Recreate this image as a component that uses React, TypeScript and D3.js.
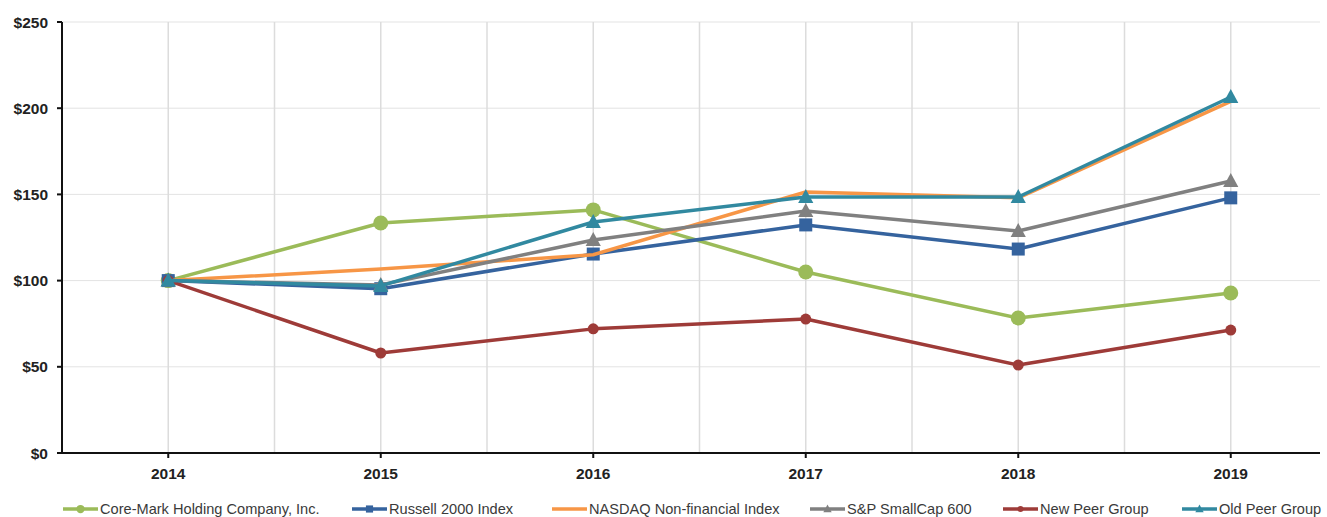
import React from 'react';
import * as d3 from 'd3';

const years = [2014, 2015, 2016, 2017, 2018, 2019];
const yTicks = [0, 50, 100, 150, 200, 250];

const coreMark = [100, 133.4, 141, 105, 78.3, 92.8];
const russell = [100, 95.3, 115.4, 132.3, 118.3, 148];
const nasdaq = [100, 106.7, 115, 151.4, 148, 204];
const spSmall = [100, 97.5, 123.5, 140.4, 128.8, 157.8];
const newPeer = [100, 58, 72, 77.7, 51, 71.3];
const oldPeer = [100, 96.9, 134, 148.5, 148.5, 206.5];

const seriesNames = [
  'Core-Mark Holding Company, Inc.',
  'Russell 2000 Index',
  'NASDAQ Non-financial Index',
  'S&P SmallCap 600',
  'New Peer Group',
  'Old Peer Group',
];

const series = [
  { name: seriesNames[0], values: coreMark, color: '#9BBB59', marker: 'circle', size: 7.5 },
  { name: seriesNames[1], values: russell, color: '#35639E', marker: 'square', size: 6.5 },
  { name: seriesNames[2], values: nasdaq, color: '#F79646', marker: 'none', size: 0 },
  { name: seriesNames[3], values: spSmall, color: '#808080', marker: 'triangle', size: 8 },
  { name: seriesNames[4], values: newPeer, color: '#9E3B38', marker: 'circle', size: 5.5 },
  { name: seriesNames[5], values: oldPeer, color: '#3189A0', marker: 'triangle', size: 8 },
];

const legendX = [63, 352, 552, 810, 1003, 1182];

const W = 1327;
const H = 517;
const left = 62;
const right = 1320;
const top = 22;
const bottom = 453;

function Marker({ kind, x, y, size, color }) {
  if (kind === 'circle') return <circle cx={x} cy={y} r={size} fill={color} />;
  if (kind === 'square')
    return <rect x={x - size} y={y - size} width={size * 2} height={size * 2} fill={color} />;
  if (kind === 'triangle') {
    const p = d3.path();
    p.moveTo(x, y - size);
    p.lineTo(x + size * 0.95, y + size * 0.75);
    p.lineTo(x - size * 0.95, y + size * 0.75);
    p.closePath();
    return <path d={p.toString()} fill={color} />;
  }
  return null;
}

export default function App() {
  const x = d3.scaleLinear().domain([2013.5, 2019.42]).range([left, right]);
  const y = d3.scaleLinear().domain([0, 250]).range([bottom, top]);
  const line = d3.line<number>()
    .x((d, i) => x(years[i]))
    .y(d => y(d));

  const halfYears = d3.range(2014, 2019.5, 0.5);
  const font = '"Liberation Sans", Arial, sans-serif';

  return (
    <svg width={W} height={H} style={{ position: 'absolute', left: 0, top: 0 }} fontFamily={font}>
      <rect width={W} height={H} fill="#fff" />
      {yTicks.map(t => (
        <line key={'h' + t} x1={left} x2={right} y1={y(t)} y2={y(t)} stroke="#e3e3e3" strokeWidth={1} />
      ))}
      {halfYears.map(t => (
        <line key={'v' + t} x1={x(t)} x2={x(t)} y1={top} y2={bottom} stroke="#dcdcdc" strokeWidth={1.5} />
      ))}
      <line x1={left} x2={left} y1={top} y2={bottom} stroke="#111" strokeWidth={2} />
      <line x1={left - 1} x2={right} y1={bottom} y2={bottom} stroke="#111" strokeWidth={2} />
      {yTicks.map(t => (
        <g key={'yt' + t}>
          <line x1={left - 5} x2={left} y1={y(t)} y2={y(t)} stroke="#111" strokeWidth={2} />
          <text x={48} y={y(t) + 5.5} textAnchor="end" fontSize={15.5} fontWeight="bold" fill="#222">
            {'$' + t}
          </text>
        </g>
      ))}
      {years.map(yr => (
        <g key={'xt' + yr}>
          <line x1={x(yr)} x2={x(yr)} y1={bottom} y2={bottom + 5} stroke="#111" strokeWidth={2} />
          <text x={x(yr)} y={479} textAnchor="middle" fontSize={15.5} fontWeight="bold" fill="#222">
            {yr}
          </text>
        </g>
      ))}
      {series.map(s => (
        <g key={s.name}>
          <path d={line(s.values) || ''} fill="none" stroke={s.color} strokeWidth={3.5} strokeLinejoin="round" />
          {s.values.map((v, i) => (
            <Marker key={i} kind={s.marker} x={x(years[i])} y={y(v)} size={s.size} color={s.color} />
          ))}
        </g>
      ))}
      {series.map((s, i) => (
        <g key={'lg' + s.name}>
          <line x1={legendX[i]} x2={legendX[i] + 35} y1={509} y2={509} stroke={s.color} strokeWidth={3.5} />
          <Marker kind={s.marker} x={legendX[i] + 17.5} y={509} size={s.size * 0.55} color={s.color} />
          <text x={legendX[i] + 37} y={514} fontSize={14.6} fill="#3a3a3a">
            {s.name}
          </text>
        </g>
      ))}
    </svg>
  );
}
